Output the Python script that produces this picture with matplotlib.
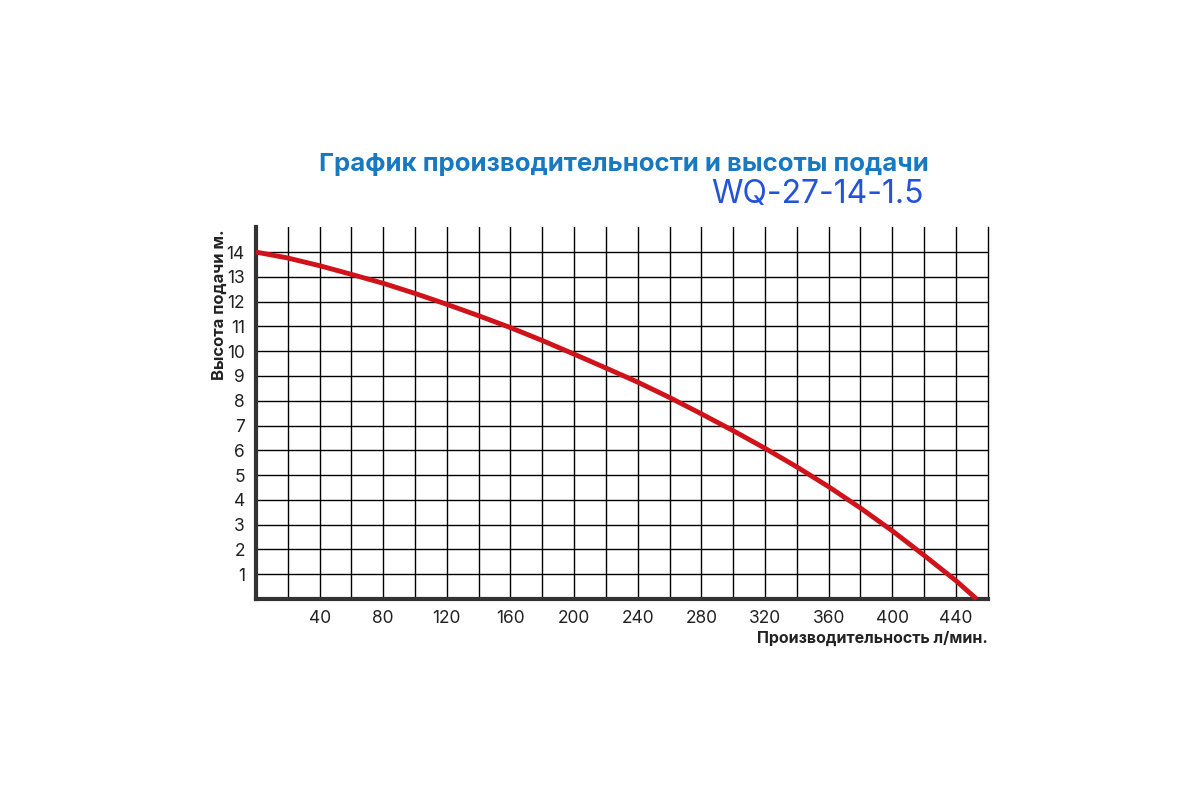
import numpy as np
import matplotlib.pyplot as plt

# performance curve
flow = [0, 20, 40, 60, 80, 100, 120, 140, 160, 180, 200, 220, 240,
        260, 280, 300, 320, 340, 360, 380, 400, 420, 440, 453]
head = [14.0, 13.76, 13.45, 13.10, 12.74, 12.33, 11.89, 11.43, 10.95, 10.43,
        9.88, 9.32, 8.75, 8.13, 7.47, 6.79, 6.08, 5.33, 4.53, 3.67,
        2.75, 1.76, 0.74, 0.0]
x_labels = list(range(40, 441, 40))
y_labels = list(range(1, 15))

title = 'График производительности и высоты подачи'
model = 'WQ-27-14-1.5'
xlabel = 'Производительность л/мин.'
ylabel = 'Высота подачи м.'

plt.rcParams['font.family'] = ['Inter', 'DejaVu Sans']

fig = plt.figure(figsize=(12, 8), dpi=100)
ax = fig.add_axes([0.2133, 0.2513, 0.6098, 0.4646])

ax.set_xlim(0, 460)
ax.set_ylim(0, 15)

#grid every 20 l/min and every metre
ax.set_xticks(x_labels)
ax.set_xticks(np.arange(20, 460, 20), minor=True)
ax.set_yticks(y_labels)
ax.grid(which='both', color='black', linewidth=1.0)
ax.tick_params(which='both', length=0, labelsize=12.5, colors='#222222')
ax.tick_params(axis='x', pad=8)
ax.tick_params(axis='y', pad=8)
ax.set_axisbelow(True)

for s in ['left', 'bottom']:
    ax.spines[s].set_linewidth(3)
    ax.spines[s].set_color('#333333')
ax.spines['top'].set_visible(False)
ax.spines['right'].set_linewidth(1.0)
ax.spines['right'].set_color('black')

ax.plot(flow, head, color='#d0121b', linewidth=3.5, solid_capstyle='butt',
        clip_on=False, zorder=3)

fig.text(0.520, 0.794, title, ha='center', va='center', fontsize=18.5,
         fontweight='bold', color='#1878c0')
fig.text(0.770, 0.757, model, ha='right', va='center', fontsize=23,
         color='#2452d8')
fig.text(0.8231, 0.202, xlabel, ha='right', va='center', fontsize=11.5,
         fontweight='bold', color='#222222')
fig.text(0.183, 0.713, ylabel, ha='center', va='top', rotation=90,
         fontsize=12, fontweight='bold', color='#222222')

plt.savefig('out.png', dpi=100, facecolor='white')
